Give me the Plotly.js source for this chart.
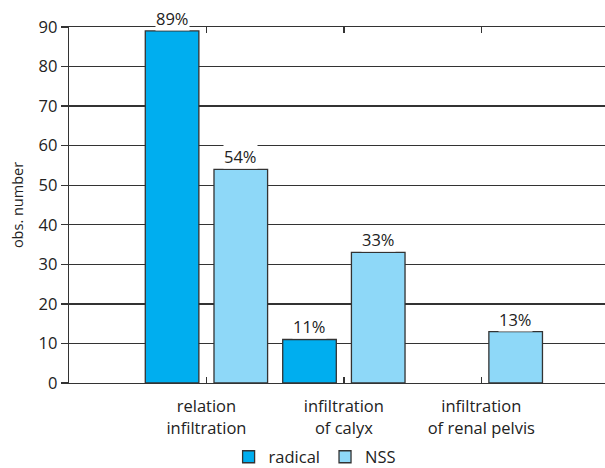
<!DOCTYPE html>
<html>
<head>
<meta charset="utf-8">
<script src="https://cdn.plot.ly/plotly-3.0.1.min.js"></script>
<style>html,body{margin:0;padding:0;background:#fff;}#chart{width:605px;height:468px;}</style>
</head>
<body>
<div id="chart"></div>
<script>
const categories = ["relation<br>infiltration", "infiltration<br>of calyx", "infiltration<br>of renal pelvis"];
const radicalValues = [89, 11, null];
const nssValues = [54, 33, 13];
const radicalLabels = ["89%", "11%", ""];
const nssLabels = ["54%", "33%", "13%"];
const yTicks = [0, 10, 20, 30, 40, 50, 60, 70, 80, 90];

const FONT = "Open Sans, Noto Sans, sans-serif";
const FS = 16.5;
const TXT = "#222222";
const LINE = "#333333";

const idx = categories.map((c, i) => i);

const traces = [
  {
    type: "bar", name: "radical", x: idx, y: radicalValues,
    marker: {color: "#00AEEF", line: {color: LINE, width: 1.3}},
    hoverinfo: "skip"
  },
  {
    type: "bar", name: "NSS", x: idx, y: nssValues,
    marker: {color: "#8ED8F8", line: {color: LINE, width: 1.3}},
    hoverinfo: "skip"
  }
];

const annotations = [];
radicalValues.forEach((v, i) => {
  if (v !== null && radicalLabels[i]) annotations.push({
    x: i - 0.25, y: v, xref: "x", yref: "y", text: radicalLabels[i],
    showarrow: false, yanchor: "bottom", bgcolor: "#ffffff", borderpad: 0,
    font: {family: FONT, size: FS, color: TXT}
  });
});
nssValues.forEach((v, i) => {
  if (v !== null && nssLabels[i]) annotations.push({
    x: i + 0.25, y: v, xref: "x", yref: "y", text: nssLabels[i],
    showarrow: false, yanchor: "bottom", bgcolor: "#ffffff", borderpad: 0,
    font: {family: FONT, size: FS, color: TXT}
  });
});

const layout = {
  width: 605, height: 468,
  margin: {l: 69, r: 0, t: 27, b: 85, autoexpand: false},
  paper_bgcolor: "#ffffff", plot_bgcolor: "#ffffff",
  font: {family: FONT, size: FS, color: TXT},
  barmode: "group", bargap: 0, bargroupgap: 0.22,
  showlegend: true,
  legend: {
    orientation: "h", x: 0.52, xref: "container", xanchor: "center",
    y: -0.208, yref: "paper", yanchor: "middle", bgcolor: "rgba(0,0,0,0)",
    font: {family: FONT, size: FS, color: TXT}, itemwidth: 30, traceorder: "normal",
    tracegroupgap: 0
  },
  xaxis: {
    range: [-1, 2.9], tickmode: "array", tickvals: idx, ticktext: categories,
    showgrid: false, zeroline: false, showline: true, linecolor: LINE, linewidth: 1.3,
    mirror: "ticks", ticks: "inside", ticklen: 6, tickcolor: LINE, tickwidth: 1.3,
    ticklabelstandoff: 8, automargin: false,
    tickfont: {family: FONT, size: FS, color: TXT}, fixedrange: true
  },
  yaxis: {
    range: [0, 90], tickmode: "array", tickvals: yTicks,
    showgrid: true, gridcolor: LINE, gridwidth: 1.3, zeroline: false,
    showline: true, linecolor: LINE, linewidth: 1.3,
    ticks: "outside", ticklen: 7, tickcolor: LINE, tickwidth: 1.3,
    tickfont: {family: FONT, size: FS, color: TXT}, automargin: false,
    title: {text: "obs. number", font: {family: FONT, size: 14.5, color: TXT}, standoff: 11},
    fixedrange: true
  },
  annotations: annotations
};

Plotly.newPlot("chart", traces, layout, {displayModeBar: false, staticPlot: true});
</script>
</body>
</html>
